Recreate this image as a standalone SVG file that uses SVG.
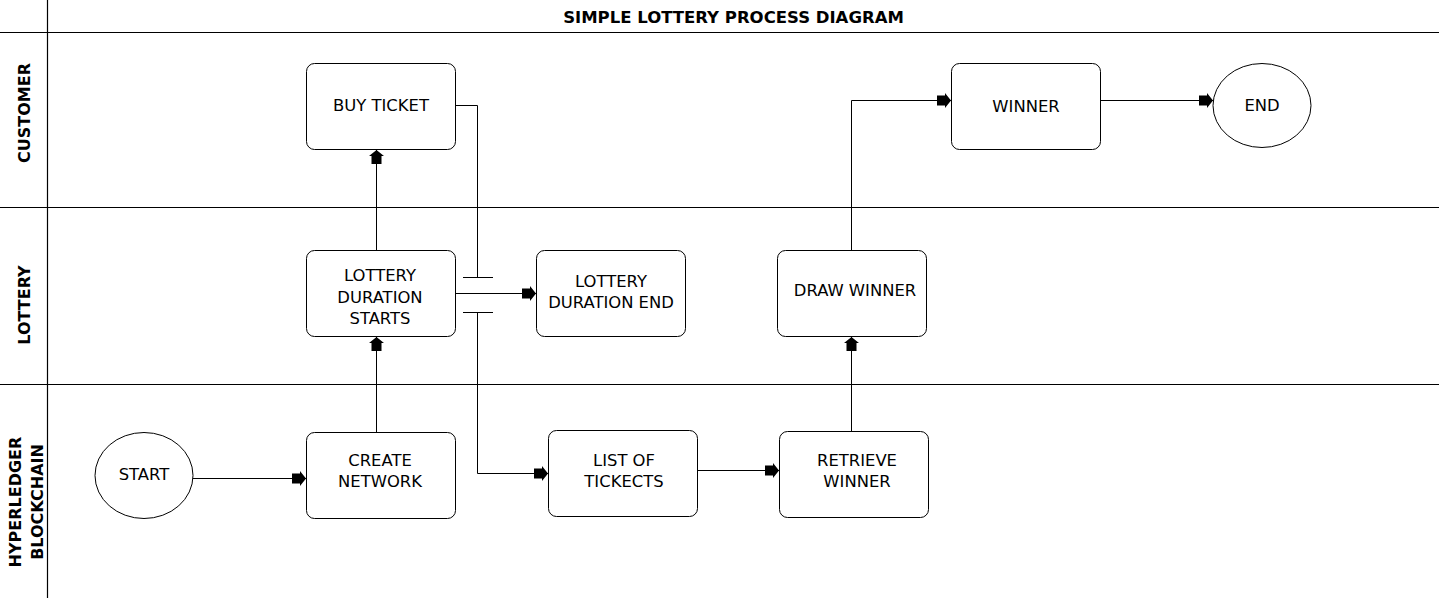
<svg xmlns="http://www.w3.org/2000/svg" width="1440" height="600" viewBox="0 0 1440 600">
<style>
.frame{stroke:#000;stroke-width:1.2;fill:none}
.box{fill:#fff;stroke:#000;stroke-width:1}
.t{font-family:"DejaVu Sans",Verdana,sans-serif;font-size:16.4px;fill:#000;text-anchor:middle;dominant-baseline:central}
.b{font-family:"DejaVu Sans",Verdana,sans-serif;font-size:16px;font-weight:bold;fill:#000;text-anchor:middle;dominant-baseline:central}
.c{stroke:#000;stroke-width:1;fill:none}
</style>
<defs>
<marker id="arr" markerUnits="userSpaceOnUse" markerWidth="16" markerHeight="18" viewBox="-15 -9 16 18" refX="0" refY="0" orient="auto">
<path d="M0,0 L-6,-7.5 L-6,-5 L-14,-5 L-14,5 L-6,5 L-6,7.5 Z" fill="#000"/>
</marker>
</defs>
<rect width="1440" height="600" fill="#fff"/>
<g id="frame">
<line class="frame" x1="47.5" y1="0" x2="47.5" y2="598"/>
<line class="frame" x1="0" y1="32.5" x2="1439" y2="32.5"/>
<line class="frame" x1="0" y1="207.5" x2="1439" y2="207.5"/>
<line class="frame" x1="0" y1="384.5" x2="1439" y2="384.5"/>
<text class="b" x="733.5" y="17" style="font-size:16.5px">SIMPLE LOTTERY PROCESS DIAGRAM</text>
<text class="b" transform="translate(24,113) rotate(-90)">CUSTOMER</text>
<text class="b" transform="translate(24,305) rotate(-90)">LOTTERY</text>
<text class="b" transform="translate(15,502) rotate(-90)">HYPERLEDGER</text>
<text class="b" transform="translate(37,502) rotate(-90)">BLOCKCHAIN</text>
</g>
<g id="connectors">
<line class="c" x1="193" y1="478.5" x2="306" y2="478.5" marker-end="url(#arr)"/>
<line class="c" x1="376.5" y1="432" x2="376.5" y2="337" marker-end="url(#arr)"/>
<line class="c" x1="376.5" y1="250" x2="376.5" y2="150" marker-end="url(#arr)"/>
<path class="c" d="M455,105.5 H477.5 V277.5 M463,277.5 H493 M463,312.5 H493 M477.5,312.5 V473.5 H548" marker-end="url(#arr)"/>
<line class="c" x1="455" y1="293.5" x2="536" y2="293.5" marker-end="url(#arr)"/>
<line class="c" x1="697" y1="470.5" x2="779" y2="470.5" marker-end="url(#arr)"/>
<line class="c" x1="851.5" y1="431" x2="851.5" y2="337" marker-end="url(#arr)"/>
<path class="c" d="M851.5,250 V100.5 H951" marker-end="url(#arr)"/>
<line class="c" x1="1100" y1="100.5" x2="1213" y2="100.5" marker-end="url(#arr)"/>
</g>
<g id="start"><ellipse class="box" cx="144" cy="475.5" rx="49" ry="43"/><text class="t" x="144" y="474">START</text></g>
<g id="create-network"><rect class="box" x="306.5" y="432.5" width="149" height="86" rx="8"/><text class="t" x="380" y="460">CREATE</text><text class="t" x="380" y="481">NETWORK</text></g>
<g id="lottery-starts"><rect class="box" x="306.5" y="250.5" width="149" height="86" rx="8"/><text class="t" x="380" y="275">LOTTERY</text><text class="t" x="380" y="297">DURATION</text><text class="t" x="380" y="318">STARTS</text></g>
<g id="buy-ticket"><rect class="box" x="306.5" y="63.5" width="149" height="86" rx="8"/><text class="t" x="381" y="105">BUY TICKET</text></g>
<g id="lottery-end"><rect class="box" x="536.5" y="250.5" width="149" height="86" rx="8"/><text class="t" x="611" y="281">LOTTERY</text><text class="t" x="611" y="302">DURATION END</text></g>
<g id="list-tickets"><rect class="box" x="548.5" y="430.5" width="149" height="86" rx="8"/><text class="t" x="624" y="460">LIST OF</text><text class="t" x="624" y="481">TICKECTS</text></g>
<g id="retrieve-winner"><rect class="box" x="779.5" y="431.5" width="149" height="86" rx="8"/><text class="t" x="857" y="460">RETRIEVE</text><text class="t" x="857" y="481">WINNER</text></g>
<g id="draw-winner"><rect class="box" x="777.5" y="250.5" width="149" height="86" rx="8"/><text class="t" x="855" y="290">DRAW WINNER</text></g>
<g id="winner"><rect class="box" x="951.5" y="63.5" width="149" height="86" rx="8"/><text class="t" x="1026" y="106">WINNER</text></g>
<g id="end"><ellipse class="box" cx="1262" cy="105.5" rx="49" ry="42"/><text class="t" x="1262" y="105">END</text></g>
</svg>
